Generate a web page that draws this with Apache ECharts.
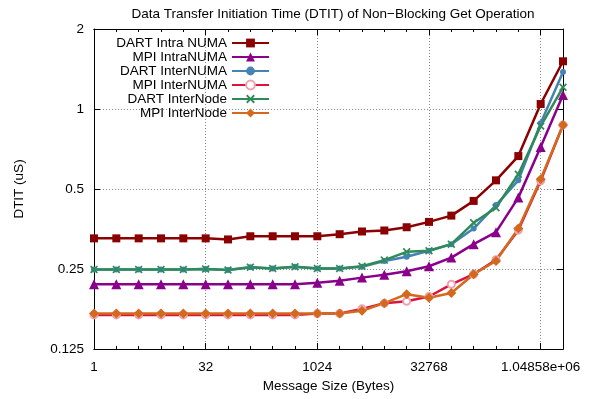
<!DOCTYPE html>
<html>
<head>
<meta charset="utf-8">
<script src="https://cdn.jsdelivr.net/npm/echarts@6/dist/echarts.min.js"></script>
<style>
html, body { margin: 0; padding: 0; background: #fff; }
#chart { width: 596px; height: 399px; }
</style>
</head>
<body>
<div id="chart"></div>
<script>
// message sizes in bytes, 2^0 .. 2^21
var sizes = [1, 2, 4, 8, 16, 32, 64, 128, 256, 512, 1024, 2048, 4096, 8192, 16384,
  32768, 65536, 131072, 262144, 524288, 1048576, 2097152];

// DTIT in microseconds
var dartIntraNuma = [0.326, 0.326, 0.326, 0.326, 0.326, 0.326, 0.323, 0.332, 0.332, 0.332, 0.332,
  0.338, 0.346, 0.349, 0.359, 0.376, 0.397, 0.451, 0.539, 0.665, 1.044, 1.512];
var mpiIntraNuma = [0.219, 0.219, 0.219, 0.219, 0.219, 0.219, 0.219, 0.219, 0.219, 0.219, 0.222,
  0.226, 0.232, 0.238, 0.245, 0.256, 0.276, 0.310, 0.344, 0.464, 0.719, 1.129];
var dartInterNuma = [0.249, 0.249, 0.249, 0.249, 0.249, 0.250, 0.248, 0.254, 0.251, 0.255, 0.251,
  0.251, 0.255, 0.268, 0.278, 0.293, 0.310, 0.355, 0.435, 0.539, 0.884, 1.378];
var mpiInterNuma = [0.168, 0.168, 0.168, 0.168, 0.168, 0.168, 0.168, 0.168, 0.168, 0.168, 0.170,
  0.170, 0.177, 0.186, 0.189, 0.197, 0.219, 0.239, 0.271, 0.350, 0.537, 0.871];
var dartInterNode = [0.249, 0.249, 0.249, 0.249, 0.249, 0.250, 0.248, 0.254, 0.251, 0.255, 0.251,
  0.251, 0.256, 0.270, 0.290, 0.293, 0.310, 0.373, 0.425, 0.568, 0.863, 1.207];
var mpiInterNode = [0.170, 0.170, 0.170, 0.170, 0.170, 0.170, 0.170, 0.170, 0.170, 0.170, 0.170,
  0.170, 0.174, 0.186, 0.201, 0.195, 0.203, 0.239, 0.268, 0.355, 0.544, 0.871];

var yTicks = [0.125, 0.25, 0.5, 1, 2];

var FONT = "'Liberation Sans', Arial, sans-serif";
var FS = 13.5;
var xMark = 'path://M0,1.5L1.5,0L5,3.5L8.5,0L10,1.5L6.5,5L10,8.5L8.5,10L5,6.5L1.5,10L0,8.5L3.5,5Z';

function sizeLabel(v) {
  return Number(v) === 1048576 ? '1.04858e+06' : String(v);
}

function xAxis(pos, major, labels) {
  return {
    type: 'category', data: sizes, position: pos, boundaryGap: false,
    axisLine: {show: true, lineStyle: {color: '#000', width: 1}},
    axisTick: {show: true, inside: true, alignWithLabel: true, interval: major ? 4 : 0,
      length: major ? 6 : 3, lineStyle: {color: '#000'}},
    axisLabel: {show: labels, interval: 4, formatter: sizeLabel, color: '#000',
      fontFamily: FONT, fontSize: FS, margin: 11},
    splitLine: {show: major && pos === 'bottom', interval: 4,
      lineStyle: {color: '#888', type: [1, 2], width: 1}},
    name: labels ? 'Message Size (Bytes)' : '', nameLocation: 'middle', nameGap: 30,
    nameTextStyle: {color: '#000', fontFamily: FONT, fontSize: FS}
  };
}

function yAxis(pos, labels) {
  return {
    type: 'log', logBase: 2, min: 0.125, max: 2, position: pos,
    axisLine: {show: true, lineStyle: {color: '#000', width: 1}},
    axisTick: {show: true, inside: true, length: 6, lineStyle: {color: '#000'}},
    axisLabel: {show: labels, color: '#000', fontFamily: FONT, fontSize: FS, margin: 10,
      formatter: function (v) { return yTicks.indexOf(+v) >= 0 ? String(+v) : ''; }},
    splitLine: {show: labels, lineStyle: {color: '#888', type: [1, 2], width: 1}},
    name: labels ? 'DTIT (uS)' : '', nameLocation: 'middle', nameGap: 68, nameRotate: 90,
    nameTextStyle: {color: '#000', fontFamily: FONT, fontSize: FS}
  };
}

function line(name, data, color, symbol, size, extra) {
  var s = {
    name: name, type: 'line', data: data, xAxisIndex: 0, yAxisIndex: 0,
    symbol: symbol, symbolSize: size, showSymbol: true,
    lineStyle: {color: color, width: 2.5},
    itemStyle: {color: color, borderColor: color, borderWidth: 0},
    animation: false
  };
  if (extra) extra(s);
  return s;
}

var chart = echarts.init(document.getElementById('chart'), null, {renderer: 'canvas'});
chart.setOption({
  backgroundColor: '#fff',
  animation: false,
  title: {
    text: 'Data Transfer Initiation Time (DTIT) of Non\u2212Blocking Get Operation',
    left: 328, top: 2, textAlign: 'center',
    textStyle: {color: '#000', fontFamily: FONT, fontSize: FS, fontWeight: 'normal'}
  },
  grid: {left: 94, right: 33, top: 29, bottom: 50, containLabel: false},
  legend: {
    orient: 'vertical', align: 'right', right: 321, top: 31,
    itemWidth: 37, itemHeight: 11, itemGap: 0,
    textStyle: {color: '#000', fontFamily: FONT, fontSize: FS, lineHeight: 13.6},
    data: ['DART Intra NUMA', 'MPI IntraNUMA', 'DART InterNUMA', 'MPI InterNUMA',
      'DART InterNode', 'MPI InterNode']
  },
  xAxis: [xAxis('bottom', false, true), xAxis('bottom', true, false),
    xAxis('top', false, false), xAxis('top', true, false)],
  yAxis: [yAxis('left', true), yAxis('right', false)],
  series: [
    line('DART Intra NUMA', dartIntraNuma, '#8b0000', 'rect', 8),
    line('MPI IntraNUMA', mpiIntraNuma, '#8b008b', 'triangle', 10),
    line('DART InterNUMA', dartInterNuma, '#4682b4', 'circle', 6),
    line('MPI InterNUMA', mpiInterNuma, '#dc143c', 'emptyCircle', 7, function (s) {
      s.itemStyle.borderWidth = 2; s.itemStyle.color = '#f0a0b0';
    }),
    line('DART InterNode', dartInterNode, '#2e8b57', xMark, 8),
    line('MPI InterNode', mpiInterNode, '#d2691e', 'diamond', 10)
  ]
});
</script>
</body>
</html>
